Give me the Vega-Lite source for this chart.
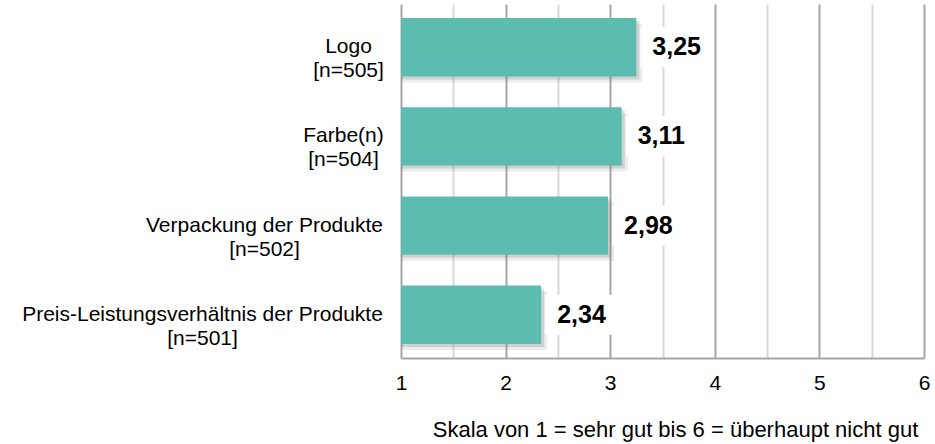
{
  "$schema": "https://vega.github.io/schema/vega-lite/v6.json",
  "width": 523,
  "height": 354,
  "autosize": {"type": "none"},
  "padding": {"left": 401, "top": 4, "right": 11, "bottom": 86},
  "config": {"font": "Liberation Sans", "view": {"stroke": null}},
  "data": {
    "values": [
      {"cat": "Logo|[n=505]", "value": 3.25, "label": "3,25"},
      {"cat": "Farbe(n)|[n=504]", "value": 3.11, "label": "3,11"},
      {"cat": "Verpackung der Produkte|[n=502]", "value": 2.98, "label": "2,98"},
      {"cat": "Preis-Leistungsverhältnis der Produkte|[n=501]", "value": 2.34, "label": "2,34"}
    ]
  },
  "encoding": {
    "y": {
      "field": "cat",
      "type": "nominal",
      "sort": null,
      "scale": {"paddingInner": 0.345, "paddingOuter": 0.157},
      "axis": {
        "title": null,
        "domain": false,
        "ticks": false,
        "grid": false,
        "labelExpr": "split(datum.label, '|')",
        "labelAlign": "center",
        "labelBaseline": "middle",
        "labelFontSize": 21,
        "labelLineHeight": 24,
        "labelColor": "#000000",
        "labelLimit": 600,
        "labelPadding": {
          "condition": [
            {"test": "datum.value === 'Logo|[n=505]'", "value": 53},
            {"test": "datum.value === 'Farbe(n)|[n=504]'", "value": 58},
            {"test": "datum.value === 'Verpackung der Produkte|[n=502]'", "value": 137}
          ],
          "value": 199
        }
      }
    }
  },
  "layer": [
    {
      "mark": {"type": "bar", "color": "#808080", "opacity": 0.15, "xOffset": 6, "yOffset": 6},
      "encoding": {
        "x": {
          "field": "value",
          "type": "quantitative",
          "scale": {"domain": [1, 6], "zero": false, "nice": false},
          "axis": {
            "values": [1, 1.5, 2, 2.5, 3, 3.5, 4, 4.5, 5, 5.5, 6],
            "labelExpr": "datum.value % 1 === 0 ? format(datum.value, 'd') : ''",
            "grid": true,
            "gridColor": {"condition": {"test": "datum.value % 1 === 0", "value": "#a6a6a6"}, "value": "#d9d9d9"},
            "gridWidth": 2,
            "domainColor": "#a6a6a6",
            "domainWidth": 2,
            "ticks": false,
            "labelFontSize": 21,
            "labelColor": "#000000",
            "labelPadding": 14,
            "labelFlush": false,
            "title": "Skala von 1 = sehr gut bis 6 = überhaupt nicht gut",
            "titleFontSize": 22,
            "titleFontWeight": "normal",
            "titleColor": "#000000",
            "titleX": 274,
            "titleY": 78,
            "titleAlign": "center",
            "titleBaseline": "alphabetic"
          }
        },
        "x2": {"datum": 1}
      }
    },
    {
      "mark": {"type": "bar", "color": "#808080", "opacity": 0.25, "xOffset": 3, "yOffset": 3},
      "encoding": {"x": {"field": "value", "type": "quantitative"}, "x2": {"datum": 1}}
    },
    {
      "mark": {"type": "bar", "color": "#5cbcb0"},
      "encoding": {"x": {"field": "value", "type": "quantitative"}, "x2": {"datum": 1}}
    },
    {
      "mark": {"type": "point", "shape": "M0.1,-0.5H1.8V0.5H0.1Z", "size": 6400, "filled": true, "color": "#ffffff", "opacity": 1, "strokeWidth": 0},
      "encoding": {"x": {"field": "value", "type": "quantitative"}}
    },
    {
      "mark": {"type": "text", "align": "left", "baseline": "middle", "dx": 16, "fontSize": 25, "fontWeight": "bold", "color": "#000000"},
      "encoding": {"x": {"field": "value", "type": "quantitative"}, "text": {"field": "label"}}
    }
  ]
}
